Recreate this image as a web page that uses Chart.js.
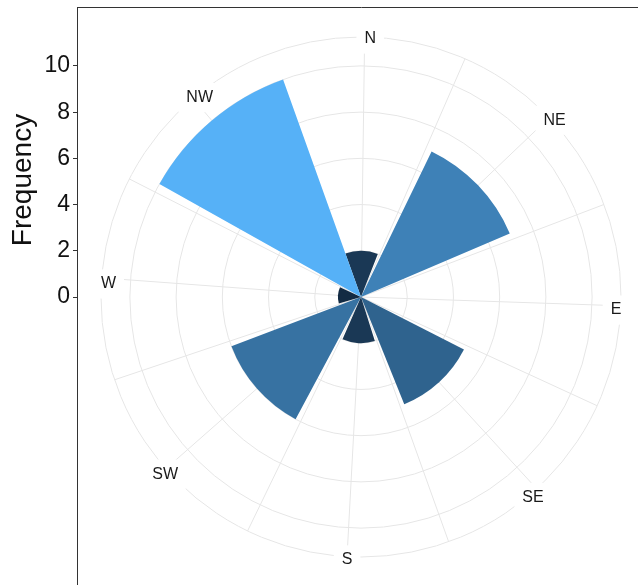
<!DOCTYPE html>
<html>
<head>
<meta charset="utf-8">
<script src="https://cdn.jsdelivr.net/npm/chart.js@4/dist/chart.umd.min.js"></script>
<style>
  html, body { margin: 0; padding: 0; background: #fff; overflow: hidden; }
  canvas { display: block; }
</style>
</head>
<body>
<canvas id="rose" width="645" height="588"></canvas>
<script>
const directions = ['N', 'NE', 'E', 'SE', 'S', 'SW', 'W', 'NW'];
const frequency = [2, 7, 0, 5, 2, 6, 1, 10];
const yTicks = [0, 2, 4, 6, 8, 10];
const ringValues = [0, 2, 4, 6, 8, 10, 11.25];

// directions are 45 units apart, bars 0.9 wide -> range -20.25..335.25 fills the circle
const barWidth = 40.5, gapWidth = 4.5;
const degPerUnit = 360 / 355.5;
const rotation = 0.8; // bearing of N
const startAngle = rotation - 20.25 * degPerUnit;

// 316 slots of 1.125 units, spokes every 22.5 units, labels sit in chosen slots
const slotCount = 316;
const labelSlot = [18, 59, 97, 140, 177, 217, 255, 300];
const labelDist = [248.4, 247.5, 249.7, 249.9, 253.5, 248, 245, 240.7];
const gridColor = '#e6e6e6';

const slotLabels = Array(slotCount).fill('');
labelSlot.forEach((s, i) => { slotLabels[s] = directions[i]; });
const isSpoke = i => i >= 18 && i <= 298 && (i - 18) % 20 === 0;
const padAt = i => {
  const k = labelSlot.indexOf(i);
  return k < 0 ? -60 : labelDist[k] - 260 - 24;
};

// ggplot style fill gradient, interpolated in Lab
function toLab(hex) {
  const c = [1, 3, 5].map(i => parseInt(hex.substr(i, 2), 16) / 255)
    .map(v => v <= 0.04045 ? v / 12.92 : Math.pow((v + 0.055) / 1.055, 2.4));
  const x = (c[0] * 0.4124 + c[1] * 0.3576 + c[2] * 0.1805) / 0.95047;
  const y = c[0] * 0.2126 + c[1] * 0.7152 + c[2] * 0.0722;
  const z = (c[0] * 0.0193 + c[1] * 0.1192 + c[2] * 0.9505) / 1.08883;
  const f = t => t > 0.008856 ? Math.cbrt(t) : 7.787 * t + 16 / 116;
  return [116 * f(y) - 16, 500 * (f(x) - f(y)), 200 * (f(y) - f(z))];
}
function fromLab(L, a, b) {
  const fy = (L + 16) / 116, fx = fy + a / 500, fz = fy - b / 200;
  const g = t => t * t * t > 0.008856 ? t * t * t : (t - 16 / 116) / 7.787;
  const x = g(fx) * 0.95047, y = g(fy), z = g(fz) * 1.08883;
  const rgb = [
    x * 3.2406 - y * 1.5372 - z * 0.4986,
    -x * 0.9689 + y * 1.8758 + z * 0.0415,
    x * 0.0557 - y * 0.2040 + z * 1.0570
  ].map(v => {
    v = Math.max(0, Math.min(1, v));
    return Math.round(255 * (v <= 0.0031308 ? 12.92 * v : 1.055 * Math.pow(v, 1 / 2.4) - 0.055));
  });
  return 'rgb(' + rgb.join(',') + ')';
}
const lowLab = toLab('#132B43'), highLab = toLab('#56B1F7');
const shown = frequency.filter(v => v > 0);
const lo = Math.min(...shown), hi = Math.max(...shown);
const fillFor = v => {
  const t = (v - lo) / (hi - lo);
  return fromLab(...lowLab.map((l, i) => l + (highLab[i] - l) * t));
};

// arcs: bar, gap, bar, gap ... starting at the left edge of N
const arcValues = [], arcAngles = [], arcColors = [];
frequency.forEach((v, i) => {
  arcValues.push(v);
  arcAngles.push(barWidth * degPerUnit);
  arcColors.push(fillFor(v));
  if (i < frequency.length - 1) {
    arcValues.push(0);
    arcAngles.push(gapWidth * degPerUnit);
    arcColors.push('rgba(0,0,0,0)');
  }
});

Chart.defaults.font.family = '"Liberation Sans", Arial, sans-serif';

const radialTicks = {
  display: true,
  callback: () => '',
  font: { size: 40 },
  backdropPadding: 4,
  showLabelBackdrop: false
};
const setRings = s => { s.ticks = ringValues.map(v => ({ value: v })); };
const fixLeftAxis = s => {
  s.width = 77;
  s.paddingTop = 0;
  s.paddingBottom = 0;
};

new Chart(document.getElementById('rose'), {
  type: 'polarArea',
  data: {
    labels: slotLabels,
    datasets: [{
      rAxisID: 'r',
      data: arcValues,
      backgroundColor: arcColors,
      borderWidth: 0,
      angle: c => arcAngles[c.dataIndex]
    }]
  },
  options: {
    responsive: false,
    animation: false,
    events: [],
    plugins: {
      legend: { display: false },
      tooltip: { enabled: false }
    },
    scales: {
      x: {
        type: 'linear',
        position: 'top',
        afterFit: s => { s.height = 7; s.paddingLeft = 0; s.paddingRight = 0; },
        ticks: { display: false },
        grid: { drawOnChartArea: false, drawTicks: false },
        border: { display: true, color: '#333', width: 1 }
      },
      // left stack is placed in reverse order: y2 (lower part) first, y (upper part) second
      y2: {
        type: 'linear',
        position: 'left',
        stack: 'left',
        stackWeight: 235,
        afterFit: fixLeftAxis,
        ticks: { display: false },
        grid: { drawOnChartArea: false, drawTicks: false },
        border: { display: true, color: '#333', width: 1 }
      },
      y: {
        type: 'linear',
        position: 'left',
        stack: 'left',
        stackWeight: 346,
        min: -2.424,
        max: 12.554,
        afterBuildTicks: s => { s.ticks = yTicks.map(v => ({ value: v })); },
        afterFit: fixLeftAxis,
        ticks: { color: '#111', font: { size: 23 }, padding: 3, autoSkip: false },
        grid: { drawOnChartArea: false, drawTicks: true, tickLength: 4, color: '#333', lineWidth: 1 },
        border: { display: true, color: '#333', width: 1 },
        title: {
          display: true,
          text: 'Frequency',
          color: '#111',
          font: { size: 28 },
          padding: { top: 6, bottom: 0 }
        }
      },
      r: {
        type: 'radialLinear',
        min: 0,
        max: 11.25,
        startAngle: startAngle,
        afterBuildTicks: setRings,
        ticks: radialTicks,
        grid: { circular: true, color: gridColor, lineWidth: 1 },
        angleLines: {
          display: true,
          color: gridColor,
          lineWidth: c => isSpoke(c.index) ? 1 : 0
        },
        pointLabels: { display: false }
      },
      r2: {
        type: 'radialLinear',
        z: 1,
        min: 0,
        max: 11.25,
        startAngle: startAngle,
        afterBuildTicks: setRings,
        ticks: radialTicks,
        grid: { display: false },
        angleLines: { display: false },
        pointLabels: {
          display: true,
          color: '#1a1a1a',
          font: { size: 16 },
          padding: c => padAt(c.index),
          backdropColor: c => c.label ? '#fff' : 'rgba(0,0,0,0)',
          backdropPadding: { top: 5, bottom: 5, left: 8, right: 8 }
        }
      }
    }
  }
});
</script>
</body>
</html>
